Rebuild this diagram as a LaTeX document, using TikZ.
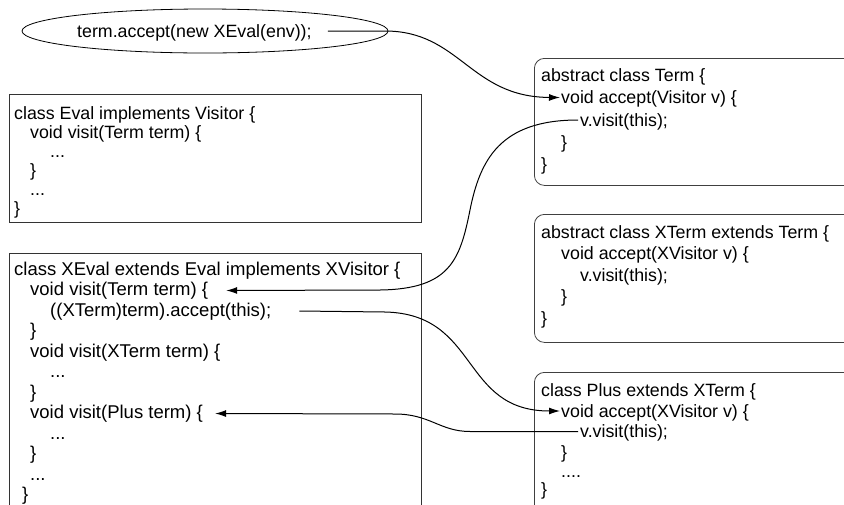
\documentclass[tikz,border=0pt]{standalone}
\usepackage{fontspec}
\setmainfont{Liberation Sans}
\usetikzlibrary{shapes.geometric,arrows.meta}
\begin{document}
\begin{tikzpicture}[x=1pt,y=-1pt,
  code/.style={anchor=base west,inner sep=0pt,font=\fontsize{17.8}{21}\selectfont},
  xcode/.style={code,font=\fontsize{18.5}{21}\selectfont},
  sqbox/.style={draw=black!80,line width=0.8pt,anchor=north west,inner sep=0pt},
  rbox/.style={draw=black!75,line width=0.8pt,rounded corners=10pt,anchor=north west,inner sep=0pt},
  call/.style={-{Latex[length=11pt,width=7pt]},line width=1pt}]
\useasboundingbox (0,0) rectangle (844,504);

% boxes
\node[draw,ellipse,line width=0.8pt,minimum width=366pt,minimum height=44pt] (ell) at (205,31) {};
\node[sqbox,minimum width=412pt,minimum height=128pt] (evalbox) at (9,94) {};
\node[sqbox,minimum width=412pt,minimum height=280pt] (xevalbox) at (9,253) {};
\node[rbox,minimum width=330pt,minimum height=127pt] (termbox) at (534,58) {};
\node[rbox,minimum width=330pt,minimum height=128pt] (xtermbox) at (534,214) {};
\node[rbox,minimum width=330pt,minimum height=160pt] (plusbox) at (534,372) {};

% ellipse text
\node[code] (callt) at (77,37) {term.accept(new XEval(env));};

% Eval
\node[code] (v1) at (14,119) {class Eval implements Visitor \{};
\node[code] (v2) at (30,138) {void visit(Term term) \{};
\node[code] (v3) at (50,157) {...};
\node[code] (v4) at (30,176) {\}};
\node[code] (v5) at (30,195) {...};
\node[code] (v6) at (14,214) {\}};

% XEval
\node[xcode] (e1) at (14,275) {class XEval extends Eval implements XVisitor \{};
\node[xcode] (e2) at (30,295.5) {void visit(Term term) \{};
\node[xcode] (e3) at (50,316) {((XTerm)term).accept(this);};
\node[xcode] (e4) at (30,336.5) {\}};
\node[xcode] (e5) at (30,357) {void visit(XTerm term) \{};
\node[xcode] (e6) at (50,377.5) {...};
\node[xcode] (e7) at (30,398) {\}};
\node[xcode] (e8) at (30,418.5) {void visit(Plus term) \{};
\node[xcode] (e9) at (50,439) {...};
\node[xcode] (e10) at (30,459.5) {\}};
\node[xcode] (e11) at (30,480) {...};
\node[xcode] (e12) at (22,500) {\}};

% Term
\node[code] (t1) at (541,81) {abstract class Term \{};
\node[code] (t2) at (561,103.5) {void accept(Visitor v) \{};
\node[code] (t3) at (580,126) {v.visit(this);};
\node[code] (t4) at (561,148) {\}};
\node[code] (t5) at (541,170) {\}};

% XTerm
\node[code] (x1) at (541,238) {abstract class XTerm extends Term \{};
\node[code] (x2) at (561,259.5) {void accept(XVisitor v) \{};
\node[code] (x3) at (580,281) {v.visit(this);};
\node[code] (x4) at (561,302.5) {\}};
\node[code] (x5) at (541,324) {\}};

% Plus
\node[code] (p1) at (541,396) {class Plus extends XTerm \{};
\node[code] (p2) at (561,417) {void accept(XVisitor v) \{};
\node[code] (p3) at (580,437.5) {v.visit(this);};
\node[code] (p4) at (561,458) {\}};
\node[code] (p5) at (561,477) {....};
\node[code] (p6) at (541,495) {\}};

% calls
\draw[call] ([xshift=16pt,yshift=6pt]callt.base east) -- (385,31)
  .. controls (460,31) and (470,97) .. ([xshift=-1pt,yshift=6pt]t2.base west);
\draw[call] ([xshift=-2pt,yshift=6pt]t3.base west)
  .. controls (500,120) and (480,160) .. (470,210)
  .. controls (460,260) and (450,289) .. (380,290)
  -- ([xshift=18pt,yshift=5pt]e2.base east);
\draw[call] ([xshift=28pt,yshift=5pt]e3.base east) -- (385,312)
  .. controls (480,314) and (460,411) .. ([xshift=-1pt,yshift=6pt]p2.base west);
\draw[call] ([xshift=-2pt,yshift=6pt]p3.base west) -- (470,431.5)
  .. controls (440,431.5) and (430,414) .. (395,414)
  -- ([xshift=12pt,yshift=5pt]e8.base east);
\end{tikzpicture}
\end{document}
